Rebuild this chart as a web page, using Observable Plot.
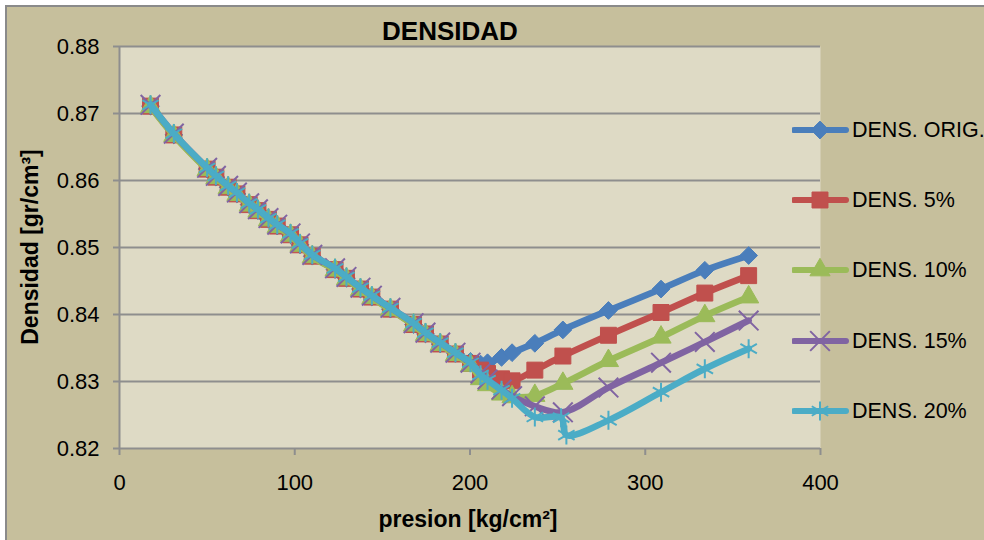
<!DOCTYPE html>
<html>
<head>
<meta charset="utf-8">
<script src="https://cdn.jsdelivr.net/npm/d3@7"></script>
<script src="https://cdn.jsdelivr.net/npm/@observablehq/plot@0.6"></script>
<style>
  html, body { margin: 0; padding: 0; background: #ffffff; }
  #chart { position: relative; width: 984px; height: 540px; overflow: hidden; background: #ffffff;
           font-family: "Liberation Sans", Arial, sans-serif; color: #000; }
  #bg { position: absolute; left: 5px; top: 5px; width: 1000px; height: 600px; background: #c6bf9c;
        border-left: 2px solid #8a8a8a; border-top: 2px solid #8a8a8a; }
  #plot { position: absolute; left: 0; top: 0; }
  .ttl { position: absolute; font-weight: bold; white-space: nowrap; }
  #title { left: 300px; width: 300px; text-align: center; top: 18px; font-size: 26px; line-height: 26px; }
  #xtitle { left: 318px; width: 300px; text-align: center; top: 508px; font-size: 23px; line-height: 23px; }
  #ytitle { left: 30px; top: 247px; font-size: 23px; line-height: 23px; transform: translate(-50%, -50%) rotate(-90deg); }
  .lg { position: absolute; left: 792px; height: 30px; width: 200px; }
  .lg svg { position: absolute; left: 0; top: 0; }
  .lg span { position: absolute; left: 60px; top: 0; line-height: 30px; font-size: 21.5px; white-space: nowrap; }
</style>
</head>
<body>
<div id="chart">
  <div id="bg"></div>
  <div id="plot"></div>
  <div id="title" class="ttl">DENSIDAD</div>
  <div id="ytitle" class="ttl">Densidad [gr/cm³]</div>
  <div id="xtitle" class="ttl">presion [kg/cm²]</div>
  <div id="legend"></div>
</div>
<script>
// ---- data ----
const presion = [17.7, 31, 50, 55, 62, 67, 74, 79, 85, 90, 97.6, 103, 110, 123, 129.5, 137.5, 144, 154.6, 167.8, 174.6, 183, 191.7, 200.3, 206, 210, 218, 224, 237, 253, 279, 309, 334, 359];
const presion20 = [17.7, 31, 50, 55, 62, 67, 74, 79, 85, 90, 97.6, 103, 110, 123, 129.5, 137.5, 144, 154.6, 167.8, 174.6, 183, 191.7, 200.3, 206, 210, 218, 224, 237, 252, 255, 279, 309, 334, 359];

const densOrig = [0.8711, 0.8668, 0.8617, 0.8605, 0.8590, 0.8580, 0.8564, 0.8555, 0.8542, 0.8532, 0.8519, 0.8504, 0.8487, 0.8467, 0.8454, 0.8438, 0.8426, 0.8408, 0.8385, 0.8371, 0.8356, 0.8342, 0.8330, 0.8326, 0.8328, 0.8336, 0.8343, 0.8357, 0.8377, 0.8406, 0.8438, 0.8466, 0.8488];
const dens5 = [0.8711, 0.8668, 0.8617, 0.8605, 0.8590, 0.8580, 0.8564, 0.8555, 0.8542, 0.8532, 0.8519, 0.8504, 0.8487, 0.8467, 0.8454, 0.8438, 0.8426, 0.8408, 0.8385, 0.8371, 0.8356, 0.8341, 0.8327, 0.8317, 0.8312, 0.8304, 0.8301, 0.8317, 0.8338, 0.8369, 0.8403, 0.8432, 0.8458];
const dens10 = [0.8710, 0.8667, 0.8616, 0.8604, 0.8589, 0.8579, 0.8563, 0.8554, 0.8541, 0.8531, 0.8518, 0.8503, 0.8486, 0.8466, 0.8453, 0.8437, 0.8425, 0.8407, 0.8384, 0.8370, 0.8355, 0.8340, 0.8324, 0.8304, 0.8295, 0.8281, 0.8277, 0.8279, 0.8297, 0.8331, 0.8366, 0.8398, 0.8426];
const dens15 = [0.8713, 0.8670, 0.8619, 0.8607, 0.8592, 0.8582, 0.8566, 0.8557, 0.8544, 0.8534, 0.8521, 0.8506, 0.8489, 0.8469, 0.8456, 0.8440, 0.8428, 0.8410, 0.8387, 0.8373, 0.8358, 0.8343, 0.8328, 0.8312, 0.8303, 0.8288, 0.8278, 0.8263, 0.8254, 0.8291, 0.8328, 0.8359, 0.8391];
const dens20 = [0.8713, 0.8670, 0.8619, 0.8607, 0.8592, 0.8582, 0.8566, 0.8557, 0.8544, 0.8534, 0.8521, 0.8506, 0.8489, 0.8469, 0.8456, 0.8440, 0.8428, 0.8410, 0.8387, 0.8373, 0.8358, 0.8343, 0.8328, 0.8310, 0.8302, 0.8287, 0.8275, 0.8247, 0.8246, 0.8220, 0.8242, 0.8284, 0.8319, 0.8349];

const seriesNames = ["DENS. ORIG.", "DENS. 5%", "DENS. 10%", "DENS. 15%", "DENS. 20%"];
const xTicks = [0, 100, 200, 300, 400];
const yTicks = [0.82, 0.83, 0.84, 0.85, 0.86, 0.87, 0.88];

// ---- styling ----
const styles = [
  {x: presion,   y: densOrig, color: "#4a7ebb", symbol: "diamond2", r: 8,   filled: true},
  {x: presion,   y: dens5,    color: "#c0504d", symbol: "square",   r: 9,   filled: true},
  {x: presion,   y: dens10,   color: "#9bbb59", symbol: "triangle", r: 7.5, filled: true},
  {x: presion,   y: dens15,   color: "#8064a2", symbol: "times",    r: 9,   filled: false},
  {x: presion20, y: dens20,   color: "#4bacc6", symbol: "asterisk", r: 9,   filled: false}
];

const gridColor = "#8e8e8e";
const marks = [
  Plot.frame({fill: "#dedac5", stroke: "none"}),
  Plot.gridY({ticks: yTicks, stroke: gridColor, strokeOpacity: 1, strokeWidth: 2}),
  Plot.ruleX([0], {stroke: gridColor, strokeWidth: 2}),
  Plot.axisY({ticks: yTicks, tickSize: 6, tickPadding: 14, stroke: gridColor, strokeWidth: 2, fill: "black",
              tickFormat: d => d.toFixed(2), label: null, fontSize: 22}),
  Plot.axisX({ticks: xTicks, tickSize: 7, tickPadding: 19, stroke: gridColor, strokeWidth: 2, fill: "black",
              label: null, fontSize: 22})
];

styles.forEach((s, k) => {
  const data = s.x.map((x, i) => ({presion: x, dens: s.y[i], serie: seriesNames[k]}));
  marks.push(Plot.line(data, {x: "presion", y: "dens", stroke: s.color, strokeWidth: 6.5,
    curve: "catmull-rom", strokeLinejoin: "round", strokeLinecap: "round"}));
  marks.push(Plot.dot(data, {x: "presion", y: "dens", symbol: s.symbol, r: s.r,
    fill: s.filled ? s.color : "none", stroke: s.color, strokeWidth: s.filled ? 1 : 2}));
});

const chart = Plot.plot({
  width: 984,
  height: 540,
  marginLeft: 119,
  marginRight: 164,
  marginTop: 46,
  marginBottom: 92,
  style: {background: "transparent", fontFamily: "Liberation Sans, Arial, sans-serif", fontSize: "22px", color: "black", overflow: "visible"},
  x: {domain: [0, 400]},
  y: {domain: [0.82, 0.88]},
  marks
});
document.getElementById("plot").appendChild(chart);

// ---- legend (HTML + d3 symbols) ----
const symMap = {diamond2: d3.symbolDiamond2, square: d3.symbolSquare, triangle: d3.symbolTriangle, times: d3.symbolTimes, asterisk: d3.symbolAsterisk};
const legend = document.getElementById("legend");
styles.forEach((s, k) => {
  const div = document.createElement("div");
  div.className = "lg";
  div.style.top = (130 + k * 70.2 - 15) + "px";
  const svg = d3.create("svg").attr("width", 60).attr("height", 30);
  svg.append("line").attr("x1", 2).attr("x2", 54).attr("y1", 15).attr("y2", 15)
    .attr("stroke", s.color).attr("stroke-width", 6).attr("stroke-linecap", "round");
  svg.append("path").attr("transform", "translate(28,15)")
    .attr("d", d3.symbol(symMap[s.symbol], Math.PI * s.r * s.r)())
    .attr("fill", s.filled ? s.color : "none").attr("stroke", s.color).attr("stroke-width", s.filled ? 1 : 2);
  div.appendChild(svg.node());
  const span = document.createElement("span");
  span.textContent = seriesNames[k];
  div.appendChild(span);
  legend.appendChild(div);
});
</script>
</body>
</html>
